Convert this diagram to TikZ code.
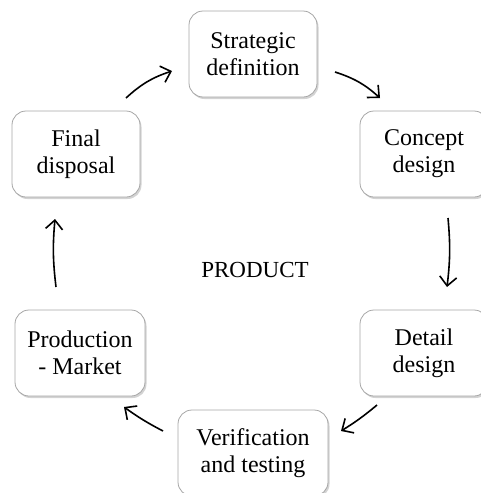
\documentclass[tikz,border=0pt]{standalone}
\usepackage{fontspec}
\setmainfont{Liberation Serif}
\usetikzlibrary{arrows.meta,shadows}

\begin{document}
\begin{tikzpicture}[x=1pt,y=-1pt,
    phase/.style={draw=gray!70, line width=0.8pt, fill=white, rounded corners=14pt,
        minimum width=128pt, minimum height=86pt, align=center,
        font=\fontsize{24}{27}\selectfont,
        drop shadow={shadow xshift=1.5pt, shadow yshift=-2pt, opacity=0.35}},
    cyc/.style={line width=1.6pt, -{Straight Barb[length=9pt,width=17pt,line width=1.6pt]}}]
    \useasboundingbox (0,0) rectangle (481,493);

    \def\xl{76}
    \def\xm{253}
    \def\xr{424}

    \def\ya{54}
    \def\yb{154}
    \def\yc{353}
    \def\yd{453}

    \node[phase] (strat) at (\xm,\ya) {Strategic\\definition};
    \node[phase] (concept) at (\xr,\yb) {Concept\\design};
    \node[phase] (detail) at (\xr,\yc) {Detail\\design};
    \node[phase, minimum width=150pt] (verif) at (\xm,\yd) {Verification\\and testing};
    \node[phase, minimum width=130pt] (prod) at (\xl+4,\yc) {Production\\- Market};
    \node[phase] (final) at (\xl,\yb) {Final\\disposal};

    \node[font=\fontsize{23}{27}\selectfont] (product) at (255,270) {PRODUCT};

    \coordinate (fa) at (126,98);
    \coordinate (fb) at (172,71);
    \coordinate (sa) at (335,72);
    \coordinate (sb) at (380,98);
    \coordinate (ca) at (448,218);
    \coordinate (cb) at (447,287);
    \coordinate (da) at (377,405);
    \coordinate (db) at (341,431);
    \coordinate (va) at (163,431);
    \coordinate (vb) at (124,407);
    \coordinate (pa) at (56,287);
    \coordinate (pb) at (55,219);

    \draw[cyc] (fa) to[bend left=12] (fb);
    \draw[cyc] (sa) to[bend left=12] (sb);
    \draw[cyc] (ca) to[bend left=6] (cb);
    \draw[cyc] (da) to[bend left=4] (db);
    \draw[cyc] (va) to[bend left=4] (vb);
    \draw[cyc] (pa) to[bend left=6] (pb);
\end{tikzpicture}
\end{document}
